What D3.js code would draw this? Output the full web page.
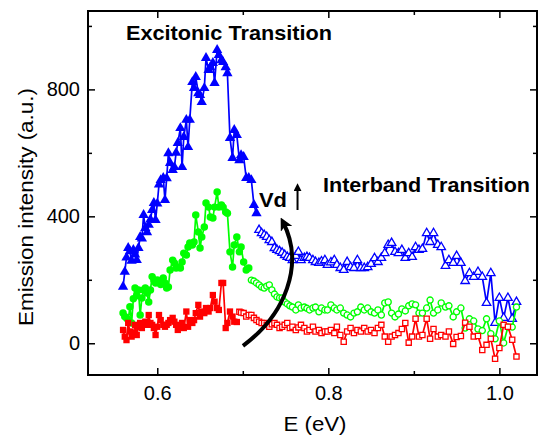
<!DOCTYPE html>
<html><head><meta charset="utf-8">
<script src="https://cdn.jsdelivr.net/npm/d3@7"></script>
<style>body{margin:0;background:#fff}svg{display:block;font-family:"Liberation Sans",Arial,Helvetica,sans-serif}</style>
</head><body><svg id="c" width="538" height="436"></svg>
<script>
// Photon energy grid (eV), shared by all three spectra
const energy = [
 0.560,0.562,0.564,0.566,0.568,0.570,0.572,0.574,0.576,0.578,0.580,0.582,0.584,0.586,0.588,0.590,0.592,0.594,0.596,0.598,0.600,
 0.602,0.604,0.607,0.609,0.611,0.613,0.615,0.618,0.620,0.622,0.624,0.627,0.629,0.631,0.634,0.636,0.638,0.641,0.643,0.645,0.648,0.650,
 0.652,0.655,0.657,0.660,0.662,0.665,0.667,0.670,0.672,0.675,0.677,0.680,0.682,0.685,0.688,0.690,0.693,0.696,0.698,0.701,
 0.704,0.707,0.710,0.713,0.716,0.719,0.722,0.725,0.728,0.731,0.734,0.737,0.740,0.743,0.746,0.749,0.752,
 0.755,0.758,0.762,0.765,0.768,0.772,0.775,0.778,0.782,0.785,0.789,0.792,0.796,0.799,
 0.803,0.807,0.810,0.814,0.818,0.822,0.826,0.830,0.834,0.838,0.842,0.846,
 0.850,0.854,0.858,0.862,0.866,0.870,0.874,0.878,0.882,0.886,0.890,0.894,0.898,0.902,0.906,0.910,0.915,0.919,0.923,0.928,
 0.932,0.937,0.941,0.946,0.950,0.955,0.960,0.965,0.970,0.975,0.980,0.985,0.990,0.995,1.000,1.005,1.010,1.015,1.020
];
// Emission intensity (a.u.), highest drain voltage (blue triangles)
const blueHigh = [
 178,225,270,300,290,260,294,280,262,300,335,330,404,363,350,373,390,420,442,388,440,
 500,514,521,451,520,599,568,546,555,600,631,678,555,650,704,618,704,823,804,839,788,782,
 760,804,899,861,870,883,820,924,908,892,886,870,851,647,584,672,656,577,593,587,
 521,521,514,436,410,357,347,341,335,325,319,300,294,290,285,278,272,
 269,262,275,288,262,269,272,269,262,256,253,258,262,247,
 255,262,247,237,231,256,240,237,262,237,237,240,
 250,268,256,269,284,310,316,288,284,294,269,284,272,303,294,297,347,319,347,310,
 303,244,262,253,275,253,196,221,209,225,209,127,221,64,143,80,143,77,130
];
// middle drain voltage (green circles)
const greenMid = [
 95,84,80,73,115,64,140,174,150,168,89,143,168,174,158,130,168,210,199,190,199,
 195,185,206,190,174,177,231,262,253,237,240,237,256,284,278,303,316,310,319,404,351,300,
 335,366,442,429,398,395,429,477,429,436,429,414,410,288,240,310,335,288,303,256,
 231,237,199,196,190,184,177,174,180,184,168,155,146,143,143,130,124,
 118,114,105,121,111,114,110,105,111,114,99,111,105,105,
 121,111,105,111,95,89,83,95,99,114,105,111,
 99,95,105,89,127,130,95,83,92,108,102,118,124,121,95,95,111,136,95,105,
 127,114,118,83,99,111,48,77,70,45,40,77,30,14,70,1,51,51,114
];
// lowest drain voltage (red squares)
const redLow = [
 42,21,10,64,37,21,32,58,26,52,64,48,58,68,58,89,64,58,48,26,52,
 89,73,58,52,58,64,73,80,68,58,42,52,64,48,100,52,73,64,73,95,121,84,
 100,95,111,100,111,152,131,111,105,190,190,48,64,100,84,68,67,99,97,95,
 84,89,89,80,73,68,64,64,58,52,60,64,58,48,52,58,64,
 48,52,42,50,58,48,37,42,52,37,42,32,37,37,
 42,32,52,26,5,37,48,32,42,37,48,37,
 42,32,48,58,21,5,21,26,32,45,64,2,21,77,21,26,77,14,45,21,
 26,21,37,-2,20,23,65,52,21,23,-21,-5,14,-49,-15,58,52,11,-42
];
// last energy of the filled-marker (excitonic) segment of each spectrum
const splitEnergy = [0.716, 0.707, 0.693];
const xMajor = [0.6, 0.8, 1.0];
const xMinor = [0.7, 0.9];
const yMajor = [0, 400, 800];
const yMinor = [200, 600, 1000];

const L = 88, R = 537, T = 11, B = 375;
const svg = d3.select('#c');
const x = d3.scaleLinear().domain([0.519, 1.044]).range([L, R]);
const y = d3.scaleLinear().domain([-100, 1047]).range([B, T]);

svg.append('defs').append('clipPath').attr('id', 'clip')
  .append('rect').attr('x', L).attr('y', T).attr('width', R - L).attr('height', B - T);

const series = [
  {vals: blueHigh, color: '#0000ff', sym: d3.symbolTriangle, size: 46, split: splitEnergy[0]},
  {vals: greenMid, color: '#00ff00', sym: d3.symbolCircle, size: 44, split: splitEnergy[1]},
  {vals: redLow, color: '#ff0000', sym: d3.symbolSquare, size: 40, split: splitEnergy[2]}
];
const plot = svg.append('g').attr('clip-path', 'url(#clip)');
const line = d3.line().x(p => x(p.e)).y(p => y(p.v));
series.forEach(s => {
  const pts = energy.map((e, i) => ({e, v: s.vals[i]}));
  const filled = pts.filter(p => p.e <= s.split + 1e-9);
  const open = pts.filter(p => p.e > s.split + 1e-9);
  const g = plot.append('g');
  [filled, open].forEach(seg => g.append('path').attr('d', line(seg))
    .attr('fill', 'none').attr('stroke', s.color).attr('stroke-width', 1.7).attr('stroke-linejoin', 'round'));
  const sym = d3.symbol().type(s.sym).size(s.size);
  g.selectAll('.f').data(filled).enter().append('path')
    .attr('transform', p => `translate(${x(p.e)},${y(p.v)})`).attr('d', sym).attr('fill', s.color);
  g.selectAll('.o').data(open).enter().append('path')
    .attr('transform', p => `translate(${x(p.e)},${y(p.v)})`).attr('d', d3.symbol().type(s.sym).size(s.size * 0.68))
    .attr('fill', '#fff').attr('stroke', s.color).attr('stroke-width', 1.3);
});

// axes (ticks pointing inward, mirrored)
function styleAxis(g) { g.select('.domain').remove(); g.selectAll('line').attr('stroke', '#000').attr('stroke-width', 1.5); }
const tickFont = g => g.selectAll('text').attr('font-size', 20).attr('font-family', 'Liberation Sans, Arial').attr('fill', '#000');
svg.append('g').attr('transform', `translate(0,${B})`)
  .call(d3.axisBottom(x).tickValues(xMajor).tickSizeInner(-7).tickSizeOuter(0).tickPadding(11).tickFormat(d3.format('.1f')))
  .call(styleAxis).call(tickFont);
svg.append('g').attr('transform', `translate(0,${B})`)
  .call(d3.axisBottom(x).tickValues(xMinor).tickSizeInner(-4).tickSizeOuter(0).tickFormat('')).call(styleAxis);
svg.append('g').attr('transform', `translate(0,${T})`)
  .call(d3.axisTop(x).tickValues(xMajor).tickSizeInner(-7).tickSizeOuter(0).tickFormat('')).call(styleAxis);
svg.append('g').attr('transform', `translate(0,${T})`)
  .call(d3.axisTop(x).tickValues(xMinor).tickSizeInner(-4).tickSizeOuter(0).tickFormat('')).call(styleAxis);
svg.append('g').attr('transform', `translate(${L},0)`)
  .call(d3.axisLeft(y).tickValues(yMajor).tickSizeInner(-7).tickSizeOuter(0).tickPadding(8).tickFormat(d3.format('d')))
  .call(styleAxis).call(tickFont);
svg.append('g').attr('transform', `translate(${L},0)`)
  .call(d3.axisLeft(y).tickValues(yMinor).tickSizeInner(-4).tickSizeOuter(0).tickFormat('')).call(styleAxis);
svg.append('g').attr('transform', `translate(${R},0)`)
  .call(d3.axisRight(y).tickValues(yMajor).tickSizeInner(-7).tickSizeOuter(0).tickFormat('')).call(styleAxis);
svg.append('g').attr('transform', `translate(${R},0)`)
  .call(d3.axisRight(y).tickValues(yMinor).tickSizeInner(-4).tickSizeOuter(0).tickFormat('')).call(styleAxis);
svg.append('rect').attr('x', L).attr('y', T).attr('width', R - L).attr('height', B - T)
  .attr('fill', 'none').attr('stroke', '#000').attr('stroke-width', 2);

// axis titles
svg.append('text').attr('x', 315).attr('y', 431).attr('text-anchor', 'middle')
  .attr('font-size', 21).attr('textLength', 63).attr('lengthAdjust', 'spacingAndGlyphs').text('E (eV)');
svg.append('text').attr('transform', 'translate(33,207) rotate(-90)').attr('text-anchor', 'middle')
  .attr('font-size', 21).attr('textLength', 238).attr('lengthAdjust', 'spacingAndGlyphs').text('Emission intensity (a.u.)');

// annotations
svg.append('text').attr('x', 126).attr('y', 40).attr('font-size', 20.5).attr('font-weight', 'bold')
  .attr('textLength', 206).attr('lengthAdjust', 'spacingAndGlyphs').text('Excitonic Transition');
svg.append('text').attr('x', 323).attr('y', 192).attr('font-size', 20.5).attr('font-weight', 'bold')
  .attr('textLength', 207).attr('lengthAdjust', 'spacingAndGlyphs').text('Interband Transition');
svg.append('text').attr('x', 259).attr('y', 207).attr('font-size', 20.5).attr('font-weight', 'bold')
  .attr('textLength', 28).attr('lengthAdjust', 'spacingAndGlyphs').text('Vd');

const defs = svg.select('defs');
defs.append('marker').attr('id', 'head').attr('viewBox', '0 0 10 10').attr('refX', 6).attr('refY', 5)
  .attr('markerWidth', 3.2).attr('markerHeight', 3.2).attr('orient', 'auto')
  .append('path').attr('d', 'M0,0 L10,5 L0,10 L2.5,5 Z').attr('fill', '#000');
defs.append('marker').attr('id', 'head2').attr('viewBox', '0 0 10 10').attr('refX', 5).attr('refY', 5)
  .attr('markerWidth', 4).attr('markerHeight', 4).attr('orient', 'auto')
  .append('path').attr('d', 'M0,0 L10,5 L0,10 Z').attr('fill', '#000');

// curved "Vd increasing" arrow, defined in data coordinates
const arrowPts = [[0.7002, -8], [0.7494, 89], [0.7727, 247], [0.7470, 382]];
const ap = d3.path();
ap.moveTo(x(arrowPts[0][0]), y(arrowPts[0][1]));
ap.bezierCurveTo(x(arrowPts[1][0]), y(arrowPts[1][1]), x(arrowPts[2][0]), y(arrowPts[2][1]), x(arrowPts[3][0]), y(arrowPts[3][1]));
svg.append('path').attr('d', ap.toString()).attr('fill', 'none').attr('stroke', '#000')
  .attr('stroke-width', 4).attr('marker-end', 'url(#head)');
// small up arrow next to Vd
svg.append('line').attr('x1', x(0.764)).attr('x2', x(0.764)).attr('y1', y(420)).attr('y2', y(492))
  .attr('stroke', '#000').attr('stroke-width', 2).attr('marker-end', 'url(#head2)');
</script></body></html>
